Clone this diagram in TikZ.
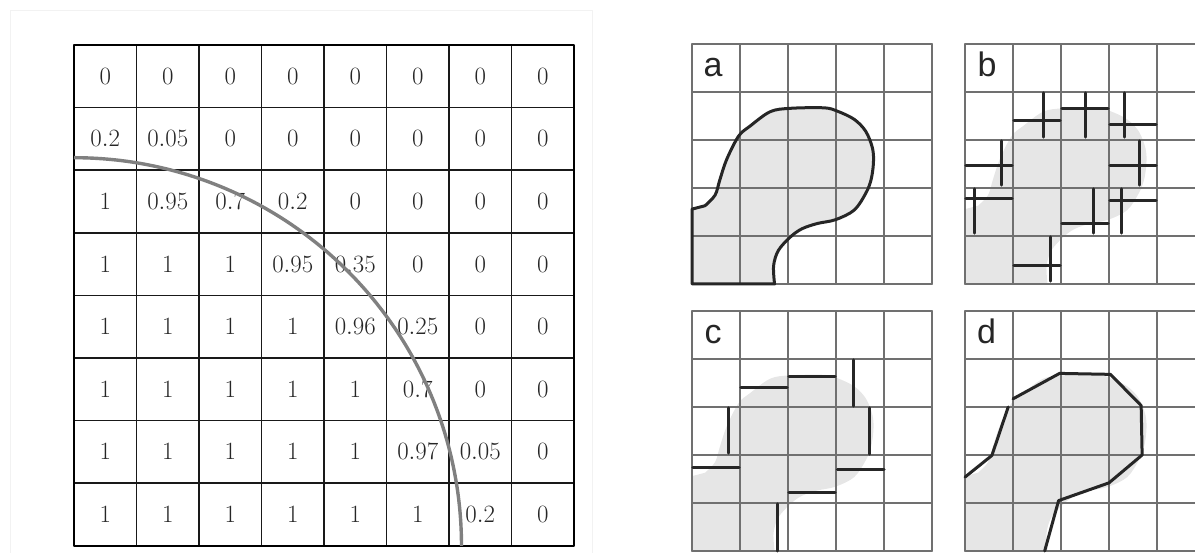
\documentclass[tikz,border=0pt]{standalone}
\usepackage{fontspec}
\newfontfamily\lettersf{Liberation Sans}
\definecolor{blobgray}{HTML}{E6E6E6}
\definecolor{gridgray}{HTML}{707070}
\definecolor{edgedark}{HTML}{262626}
\definecolor{arcgray}{HTML}{808080}
\newcommand{\blobshape}{(0,5) -- (0,3.44) -- plot[smooth,tension=0.55] coordinates {(0.27,3.37) (0.48,3.15) (0.58,2.83) (0.72,2.41) (0.97,1.92) (1.21,1.71) (1.63,1.41) (2.05,1.34) (2.75,1.33) (3.03,1.40) (3.38,1.57) (3.62,1.82) (3.76,2.17) (3.78,2.48) (3.73,2.83) (3.62,3.11) (3.38,3.46) (2.99,3.66) (2.61,3.74) (2.29,3.85) (2.05,4.02) (1.80,4.30) (1.70,4.62) (1.72,5.0)} -- cycle}
\tikzset{
  panel/.style={shift={#1},x=48pt,y=-48pt},
  gridline/.style={draw=gridgray,line width=1.6pt},
  edgeline/.style={draw=edgedark,line width=3pt},
  panelletter/.style={anchor=base,inner sep=0pt,font=\lettersf\fontsize{34}{34}\selectfont,text=black!85},
  cellval/.style={inner sep=0pt,font=\fontsize{27}{30}\selectfont,text=black!85}
}
\begin{document}
\begin{tikzpicture}[x=1pt,y=-1pt,line cap=round,line join=round]
	\useasboundingbox (0,0) rectangle (1195,553);
	\clip (0,0) rectangle (1195,553);
	% coverage table
	\draw[black!5,line width=1pt] (10,11) rectangle (592,560);
	\begin{scope}[shift={(74,45)},x=62.5pt,y=-62.6pt]
		\foreach \k in {1,...,7} {
			\draw[black!90,line width=1.5pt] (\k,0) -- (\k,8);
			\draw[black!90,line width=1.5pt] (0,\k) -- (8,\k);
		}
		\draw[line width=2.4pt] (0,0) rectangle (8,8);
		\foreach \row [count=\j] in {{0,0,0,0,0,0,0,0},{0.2,0.05,0,0,0,0,0,0},{1,0.95,0.7,0.2,0,0,0,0},{1,1,1,0.95,0.35,0,0,0},{1,1,1,1,0.96,0.25,0,0},{1,1,1,1,1,0.7,0,0},{1,1,1,1,1,0.97,0.05,0},{1,1,1,1,1,1,0.2,0}}
			\foreach \v [count=\i] in \row
				\node[cellval] (val-\i-\j) at (\i-0.5,\j-0.5) {$\v$};
		\draw[arcgray,line width=3.4pt,line cap=butt,domain=0:90,smooth,samples=80] plot ({6.2*cos(\x)},{8-6.2*sin(\x)});
	\end{scope}
	% a: outline
	\begin{scope}[panel={(692,44)}]
		\fill[blobgray] \blobshape;
		\foreach \k in {0,...,5} {
			\draw[gridline] (\k,0) -- (\k,5);
			\draw[gridline] (0,\k) -- (5,\k);
		}
		\draw[edgeline] \blobshape;
		\node[panelletter] (lab-a) at (0.44,0.68) {a};
	\end{scope}
	% b: crosses
	\begin{scope}[panel={(965,44)}]
		\fill[blobgray] \blobshape;
		\foreach \k in {0,...,5} {
			\draw[gridline] (\k,0) -- (\k,5);
			\draw[gridline] (0,\k) -- (5,\k);
		}
		\foreach \c/\r/\vx/\hy in {1/1/0.63/0.59, 2/1/0.5/0.34, 3/1/0.32/0.68, 0/2/0.76/0.53, 3/2/0.64/0.53, 0/3/0.19/0.22, 2/3/0.67/0.75, 3/3/0.26/0.26, 1/4/0.78/0.62} {
			\draw[edgeline] (\c+0.02,\r+\hy) -- (\c+0.98,\r+\hy);
			\draw[edgeline] (\c+\vx,\r+0.02) -- (\c+\vx,\r+0.94);
		}
		\node[panelletter] (lab-b) at (0.46,0.68) {b};
	\end{scope}
	% c: single edges
	\begin{scope}[panel={(692,311)}]
		\fill[blobgray] \blobshape;
		\foreach \k in {0,...,5} {
			\draw[gridline] (\k,0) -- (\k,5);
			\draw[gridline] (0,\k) -- (5,\k);
		}
		\draw[edgeline] (1.02,1.59) -- (1.98,1.59);
		\draw[edgeline] (2.02,1.36) -- (2.98,1.36);
		\draw[edgeline] (3.36,1.02) -- (3.36,1.98);
		\draw[edgeline] (0.76,2.02) -- (0.76,2.96);
		\draw[edgeline] (3.69,2.02) -- (3.69,2.98);
		\draw[edgeline] (0.02,3.25) -- (0.98,3.25);
		\draw[edgeline] (3.03,3.30) -- (4.0,3.30);
		\draw[edgeline] (2.02,3.78) -- (2.98,3.78);
		\draw[edgeline] (1.79,4.02) -- (1.79,5.0);
		\node[panelletter] (lab-c) at (0.44,0.68) {c};
	\end{scope}
	% d: polygon
	\begin{scope}[panel={(965,311)}]
		\fill[blobgray] \blobshape;
		\foreach \k in {0,...,5} {
			\draw[gridline] (\k,0) -- (\k,5);
			\draw[gridline] (0,\k) -- (5,\k);
		}
		\draw[edgeline] (1.0,1.83) -- (1.97,1.30) -- (3.03,1.32) -- (3.67,1.97) -- (3.69,3.0) -- (3.0,3.58) -- (1.95,3.95) -- (1.66,5.0);
		\draw[edgeline] (0,3.46) -- (0.56,3.01) -- (0.9,2.0);
		\node[panelletter] (lab-d) at (0.45,0.68) {d};
	\end{scope}
\end{tikzpicture}
\end{document}
